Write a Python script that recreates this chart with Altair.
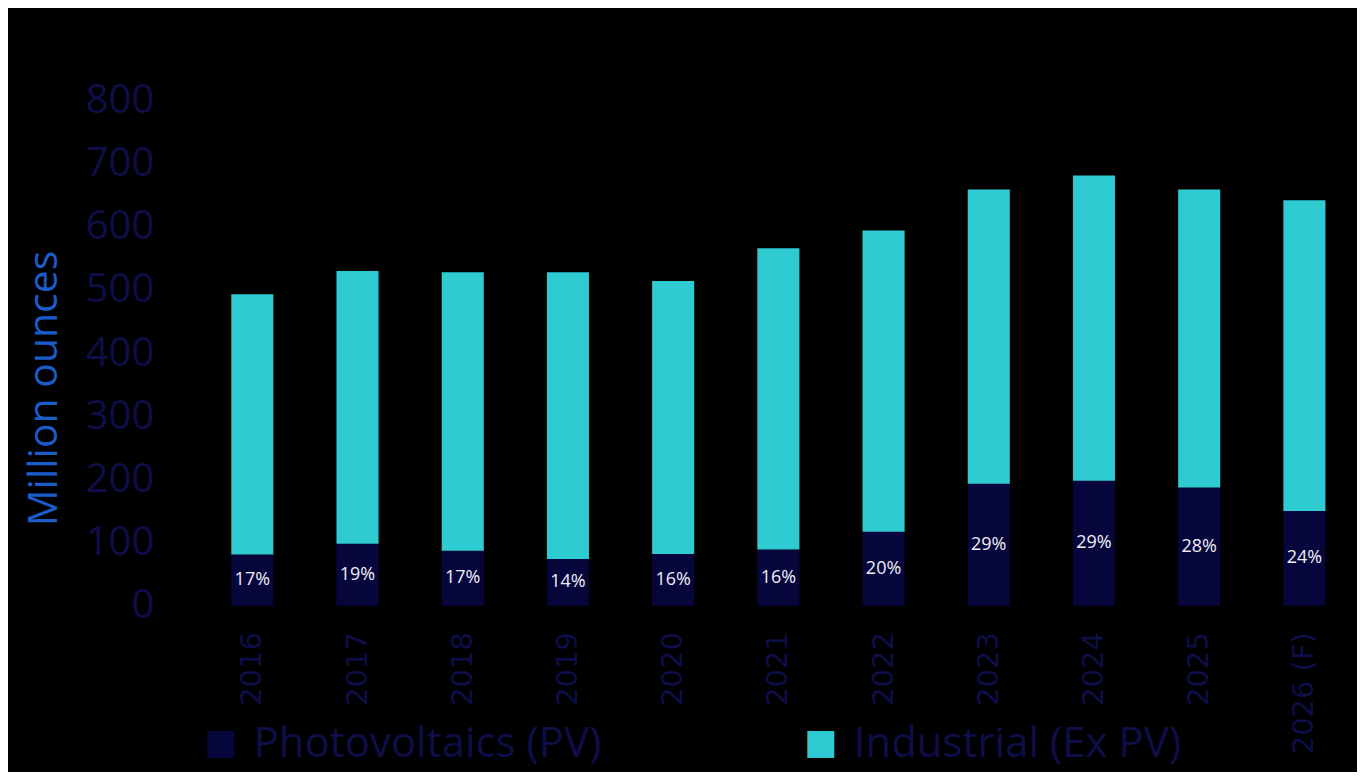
import altair as alt
import pandas as pd

years = ["2016", "2017", "2018", "2019", "2020", "2021", "2022", "2023", "2024", "2025", "2026 (F)"]
pv = [81, 98, 87, 74, 82, 89, 117, 193, 198, 187, 150]
industrial_ex_pv = [412, 432, 441, 454, 432, 477, 477, 466, 483, 472, 492]
pv_share = ["17%", "19%", "17%", "14%", "16%", "16%", "20%", "29%", "29%", "28%", "24%"]
series_names = ["Photovoltaics (PV)", "Industrial (Ex PV)"]
y_ticks = [0, 100, 200, 300, 400, 500, 600, 700, 800]

NAVY = "#06063c"
CYAN = "#2ecbd3"
TXT = "#0e0e48"
TITLE_BLUE = "#1b5cc8"

rows = []
for i, yr in enumerate(years):
    rows.append({"year": yr, "series": series_names[0], "value": pv[i], "k": 0})
    rows.append({"year": yr, "series": series_names[1], "value": industrial_ex_pv[i], "k": 1})
long_df = pd.DataFrame(rows)
lab_df = pd.DataFrame({"year": years, "pv": pv, "share": pv_share})

x_enc = alt.X(
    "year:N",
    sort=years,
    scale=alt.Scale(paddingInner=0.6, paddingOuter=0.3),
    axis=alt.Axis(
        title=None, labelAngle=270, labelFontSize=29, labelFont="DejaVu Sans",
        labelColor=TXT, ticks=False, domain=False, labelPadding=26,
    ),
)

bars = alt.Chart(long_df).mark_bar().encode(
    x=x_enc,
    y=alt.Y(
        "value:Q",
        stack="zero",
        scale=alt.Scale(domain=[0, 800], nice=False),
        axis=alt.Axis(
            values=y_ticks, title="Million ounces", grid=False, ticks=False, domain=False,
            labelFontSize=40, labelFont="Open Sans", labelColor=TXT, labelPadding=46,
            titleFontSize=41, titleFont="Open Sans", titleFontWeight="normal",
            titleColor=TITLE_BLUE, titleX=-155, titleY=288, titleAngle=270,
            titleAlign="center", titleBaseline="middle",
        ),
    ),
    color=alt.Color(
        "series:N",
        scale=alt.Scale(domain=series_names, range=[NAVY, CYAN]),
        legend=alt.Legend(
            orient="none", legendX=0, legendY=624, direction="horizontal", title=None,
            symbolType="square", symbolSize=729, symbolStrokeWidth=0,
            labelFontSize=42, labelFont="Open Sans", labelColor=TXT,
            labelOffset=12, columnPadding=198, labelLimit=600,
        ),
    ),
    order=alt.Order("k:Q"),
)

labels = alt.Chart(lab_df).transform_calculate(
    mid="datum.pv / 2"
).mark_text(fontSize=18, font="Open Sans", color="#eeeef4").encode(
    x=alt.X("year:N", sort=years),
    y=alt.Y("mid:Q"),
    text="share:N",
)

chart = alt.layer(bars, labels).properties(
    width=1159,
    height=506,
    autosize="none",
    padding={"left": 192, "top": 92, "right": 0, "bottom": 166},
    background="black",
).configure_view(stroke=None)

chart.save("out.html", embed_options={"renderer": "svg", "actions": False})
